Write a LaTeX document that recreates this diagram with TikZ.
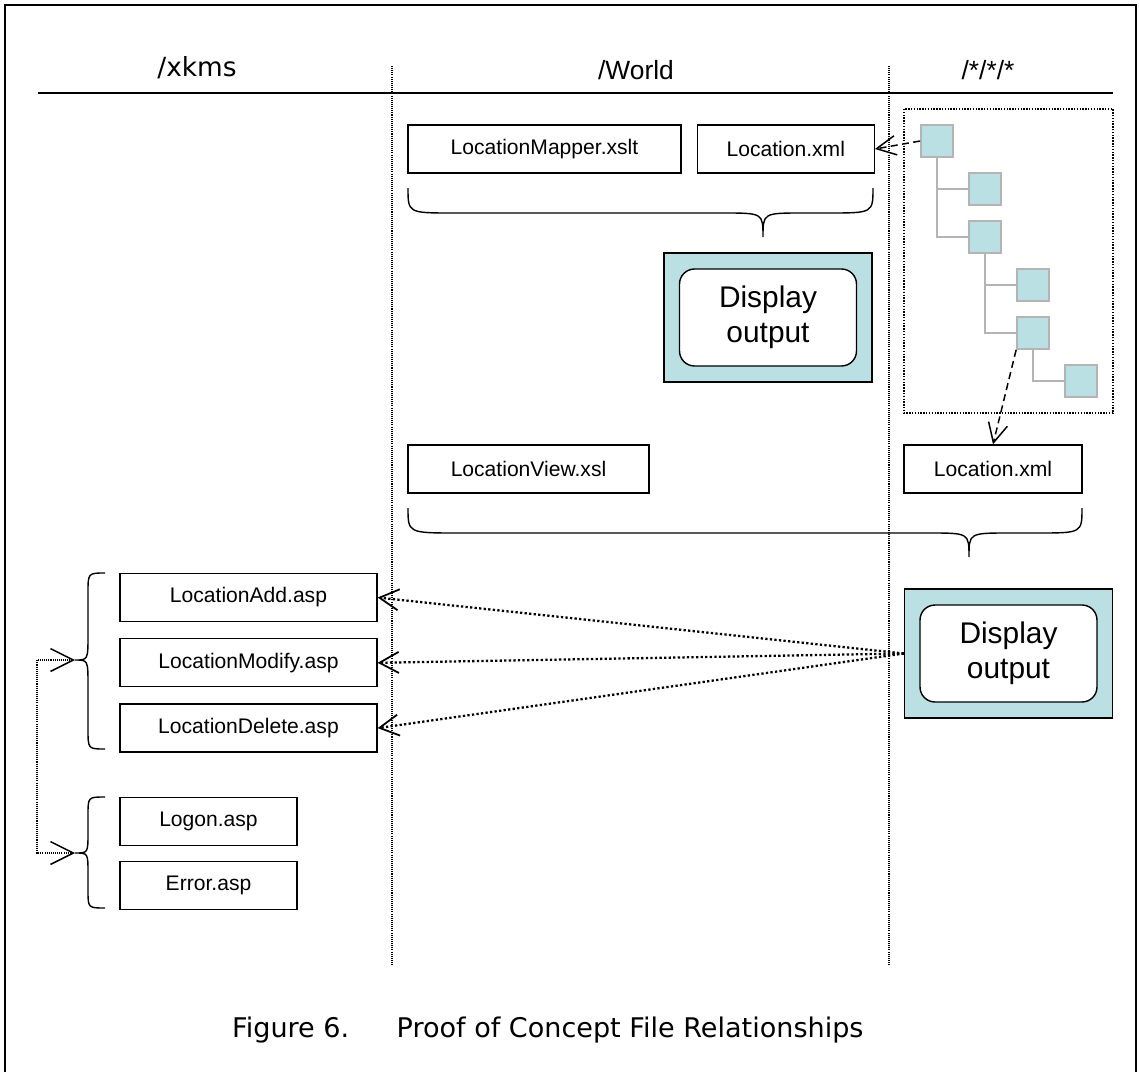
\documentclass[tikz,border=0pt]{standalone}
\usepackage{fontspec}
\setmainfont{Liberation Sans}
\newfontfamily\verdana{DejaVu Sans}
\usetikzlibrary{positioning, arrows.meta}
\definecolor{paleteal}{HTML}{BBE0E3}
\definecolor{treegray}{HTML}{B4B4B4}

\begin{document}
\begin{tikzpicture}[
  x=0.02cm, y=-0.02cm,
  filebox/.style={rectangle, draw=black, line width=0.75pt, minimum height=0.96cm, inner sep=0pt, font=\fontsize{12}{14}\selectfont},
  outerbox/.style={rectangle, draw=black, line width=0.8pt, fill=paleteal, minimum width=4.16cm, minimum height=2.58cm},
  innerbox/.style={rectangle, rounded corners=0.3cm, draw=black, line width=0.8pt, fill=white, minimum width=3.54cm, minimum height=1.94cm, align=center, font=\fontsize{17}{20}\selectfont},
  treebox/.style={rectangle, draw=treegray, line width=1pt, fill=paleteal, minimum size=0.64cm, inner sep=0pt},
  treeline/.style={draw=treegray, line width=1pt},
  colsep/.style={line width=0.6pt, dash pattern=on 0.6pt off 0.6pt},
  brace/.style={line width=0.8pt},
  dasharrow/.style={-{Straight Barb[length=11pt, width=11pt, line width=0.85pt]}, line width=0.85pt, dash pattern=on 4pt off 2.5pt},
  dotarrow/.style={-{Straight Barb[length=11pt, width=12pt, line width=1pt]}, line width=1.3pt, dash pattern=on 1.3pt off 1.3pt},
  dotlink/.style={{Straight Barb[length=13pt, width=13pt, line width=0.85pt]}-{Straight Barb[length=13pt, width=13pt, line width=0.85pt]}, line width=0.6pt, dash pattern=on 0.6pt off 0.6pt},
  header/.style={font=\fontsize{15}{18}\selectfont},
  xkmshead/.style={font=\verdana\fontsize{15}{18}\selectfont}
]
\useasboundingbox (0,0) rectangle (1140,1072);

% frame and column headings
\draw[line width=1.4pt] (5,1072) -- (5,5) -- (1136,5) -- (1136,1072);
\node[xkmshead] (hxkms) at (197,68) {/xkms};
\node[header] (hworld) at (636,70) {/World};
\node[header] (hstar) at (988,70) {/*/*/*};
\draw[line width=0.9pt] (38,93) -- (1113,93);
\draw[colsep] (392,66) -- (392,965);
\draw[colsep] (889,66) -- (889,965);

% /World column
\node[filebox, minimum width=5.46cm] (mapper) at (544.5,149) {LocationMapper.xslt};
\node[filebox, minimum width=3.54cm, right=0.3cm of mapper] (locxml) {Location.xml};
\draw[brace] (408,188) .. controls (408,213) .. (453,213) -- (723,213)
  .. controls (763,213) .. (763,237) .. controls (763,213) .. (803,213)
  -- (828,213) .. controls (873,213) .. (873,188);
\node[outerbox] (disp1) at (768,317.5) {};
\node[innerbox] (inner1) at (disp1) {Display\\output};

\node[filebox, minimum width=4.82cm] (view) at (528.5,469) {LocationView.xsl};
\node[filebox, minimum width=3.56cm] (locxml2) at (993,469) {Location.xml};
\draw[brace] (408,508) .. controls (408,533) .. (458,533) -- (929,533)
  .. controls (969,533) .. (969,557) .. controls (969,533) .. (1009,533)
  -- (1037,533) .. controls (1082,533) .. (1082,508);

% /*/*/* column: tree
\draw[line width=0.8pt, dash pattern=on 0.8pt off 0.8pt] (904,109) rectangle (1113,413);
\node[treebox] (t1) at (937,141) {};
\node[treebox] (t2) at (985,189) {};
\node[treebox] (t3) at (985,237) {};
\node[treebox] (t4) at (1033,285) {};
\node[treebox] (t5) at (1033,333) {};
\node[treebox] (t6) at (1081,381) {};
\draw[treeline] (t1.south) |- (t2.west);
\draw[treeline] (t1.south) |- (t3.west);
\draw[treeline] (t3.south) |- (t4.west);
\draw[treeline] (t3.south) |- (t5.west);
\draw[treeline] (t5.south) |- (t6.west);
\draw[dasharrow] (t1.west) -- (locxml.east);
\draw[dasharrow] (t5.south west) -- (locxml2.north);

\node[outerbox] (disp2) at (1008.5,653.5) {};
\node[innerbox] (inner2) at (disp2) {Display\\output};

% /xkms column
\node[filebox, minimum width=5.14cm] (locadd) at (248.5,597.5) {LocationAdd.asp};
\node[filebox, minimum width=5.14cm, below=0.32cm of locadd] (locmod) {LocationModify.asp};
\node[filebox, minimum width=5.14cm, below=0.32cm of locmod] (locdel) {LocationDelete.asp};
\node[filebox, minimum width=3.54cm] (logon) at (208.5,821.5) {Logon.asp};
\node[filebox, minimum width=3.54cm, below=0.3cm of logon] (error) {Error.asp};

\draw[brace] (105,573) .. controls (88,573) .. (88,593) -- (88,635)
  .. controls (88,660) .. (75,660) .. controls (88,660) .. (88,685)
  -- (88,729) .. controls (88,749) .. (105,749);
\draw[brace] (105,797) .. controls (88,797) .. (88,815) -- (88,833)
  .. controls (88,853) .. (75,853) .. controls (88,853) .. (88,873)
  -- (88,890) .. controls (88,908) .. (105,908);
\coordinate (tipa) at (75,660);
\coordinate (tipb) at (75,853);
\draw[dotlink] (tipa) -- ++(-38,0) |- (tipb);

\draw[dotarrow] (disp2.west) -- (locadd.east);
\draw[dotarrow] (disp2.west) -- (locmod.east);
\draw[dotarrow] (disp2.west) -- (locdel.east);

% caption
\node[font=\verdana\fontsize{15.4}{18}\selectfont, anchor=west] (caption) at (226,1030) {Figure 6.\hspace{27pt}Proof of Concept File Relationships};

\end{tikzpicture}
\end{document}
